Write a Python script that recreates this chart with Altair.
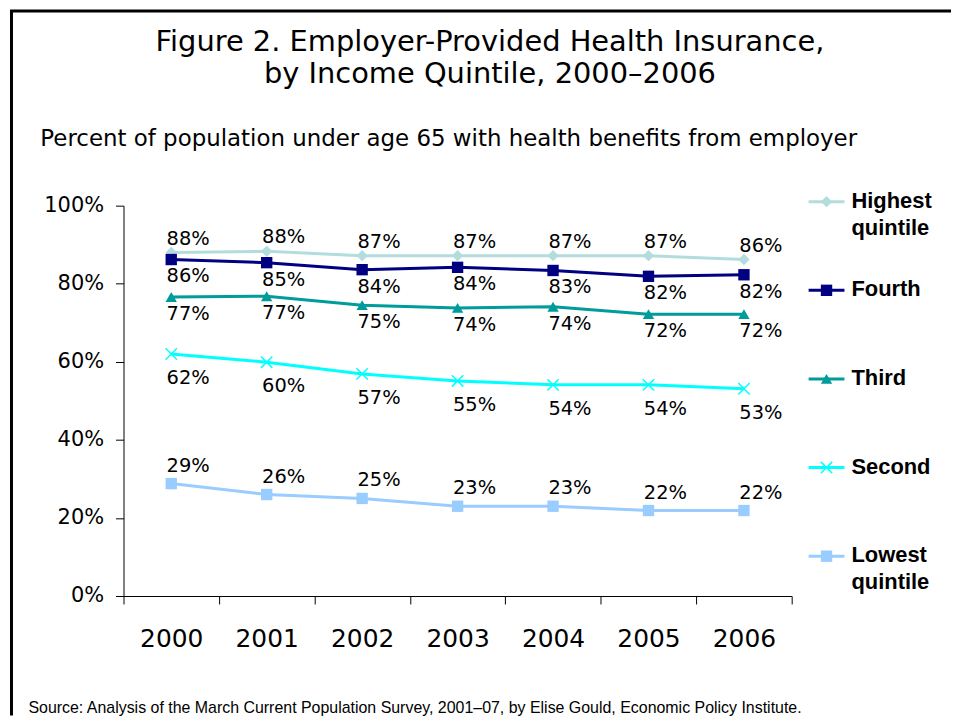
import altair as alt
import pandas as pd

years = [2000, 2001, 2002, 2003, 2004, 2005, 2006]
series = ["Highest quintile", "Fourth", "Third", "Second", "Lowest quintile"]
highest = [88.0, 88.3, 87.2, 87.2, 87.2, 87.2, 86.2]
fourth = [86.2, 85.4, 83.6, 84.2, 83.4, 81.9, 82.3]
third = [76.6, 76.8, 74.5, 73.8, 74.1, 72.2, 72.2]
second = [62.0, 59.9, 56.9, 55.1, 54.1, 54.1, 53.1]
lowest = [28.8, 26.0, 25.0, 23.0, 23.0, 21.9, 21.9]
y_ticks = [0, 20, 40, 60, 80, 100]
legend_line1 = ["Highest", "Fourth", "Third", "Second", "Lowest"]
legend_line2 = ["quintile", "", "", "", "quintile"]

colors = ["#B3DCDD", "#000080", "#009B9B", "#00FFFF", "#99CCFF"]
shapes = ["diamond", "square", "triangle-up", "cross", "square"]
X_PATH = "M-1,-1L1,1M-1,1L1,-1"

rows = []
for name, vals in zip(series, [highest, fourth, third, second, lowest]):
    for yr, v in zip(years, vals):
        rows.append({"year": yr, "series": name, "value": v})
df = pd.DataFrame(rows)

color_enc = alt.Color("series:N", scale=alt.Scale(domain=series, range=colors), legend=None)

x_vals = []
for yr in years:
    x_vals += [yr - 0.5, yr]
x_vals.append(years[-1] + 0.5)

x_enc = alt.X(
    "year:Q",
    scale=alt.Scale(domain=[years[0] - 0.5, years[-1] + 0.5], nice=False, zero=False),
    axis=alt.Axis(
        values=x_vals,
        labelExpr="datum.value % 1 == 0 ? toString(datum.value) : ''",
        tickOpacity={"condition": {"test": "datum.value % 1 == 0", "value": 0}, "value": 1},
        grid=False, domainColor="black", tickColor="black", tickSize=8,
        labelFont="DejaVu Sans", labelFontSize=25, labelColor="black", labelPadding=23,
        labelFlush=False, labelOverlap=False,
        title="Source: Analysis of the March Current Population Survey, 2001\u201307, by Elise Gould, Economic Policy Institute.",
        titleX=-96, titleY=112, titleAlign="left", titleBaseline="middle", titleAnchor="start",
        titleFont="Liberation Sans", titleFontSize=16, titleFontWeight="normal", titleColor="black",
    ),
)
y_enc = alt.Y(
    "value:Q",
    scale=alt.Scale(domain=[0, 100], nice=False),
    axis=alt.Axis(
        values=y_ticks, labelExpr="datum.value + '%'",
        grid=False, domainColor="black", tickColor="black", tickSize=8,
        labelFont="DejaVu Sans", labelFontSize=21, labelColor="black", labelPadding=12,
        labelFlush=False,
        title="Percent of population under age 65 with health benefits from employer",
        titleAngle=0, titleX=-84, titleY=-67, titleAlign="left", titleBaseline="middle",
        titleFont="DejaVu Sans", titleFontSize=23, titleFontWeight="normal", titleColor="black",
    ),
)

base = alt.Chart(df).encode(x=x_enc, y=y_enc, color=color_enc)

lines = base.mark_line(strokeWidth=3)
pts = base.transform_filter("datum.series != 'Second'").mark_point(filled=True, size=130, opacity=1).encode(
    shape=alt.Shape("series:N", scale=alt.Scale(domain=series, range=shapes), legend=None)
)
pts_x = base.transform_filter("datum.series == 'Second'").mark_point(
    shape=X_PATH, filled=False, size=130, strokeWidth=1.5, opacity=1
)

label_dy = {"Highest quintile": -14, "Fourth": 17, "Third": 17, "Second": 24, "Lowest quintile": -18}
label_layers = []
for s in series:
    label_layers.append(
        base.transform_filter(alt.datum.series == s)
        .transform_calculate(label="format(datum.value, '.0f') + '%'")
        .mark_text(font="DejaVu Sans", fontSize=19.5, color="black", dx=17, dy=label_dy[s], baseline="middle")
        .encode(text="label:N", color=alt.value("black"))
    )

one = pd.DataFrame({"k": [0]})
border_left = alt.Chart(one).mark_rule(color="black", strokeWidth=3).encode(
    x=alt.value(-112.5), y=alt.value(-195.5), y2=alt.value(512)
)
border_top = alt.Chart(one).mark_rule(color="black", strokeWidth=3).encode(
    x=alt.value(-114), x2=alt.value(831), y=alt.value(-195.5)
)

main = alt.layer(border_left, border_top, lines, pts, pts_x, *label_layers).properties(width=671, height=392)

leg_df = pd.DataFrame({
    "series": series,
    "rank": list(range(len(series))),
    "l1": legend_line1,
    "l2": legend_line2,
})
leg_y = alt.Y("rank:Q", scale=alt.Scale(domain=[4 / 89, 4 / 89 + 392 / 89], reverse=True, nice=False, zero=False), axis=None)
leg_color = alt.Color("series:N", scale=alt.Scale(domain=series, range=colors), legend=None)
leg_base = alt.Chart(leg_df).encode(y=leg_y, color=leg_color)
leg_rule = leg_base.mark_rule(strokeWidth=3).encode(x=alt.value(-2), x2=alt.value(34))
leg_pts = leg_base.transform_filter("datum.series != 'Second'").mark_point(filled=True, size=130, opacity=1).encode(
    x=alt.value(16),
    shape=alt.Shape("series:N", scale=alt.Scale(domain=series, range=shapes), legend=None),
)
leg_x = leg_base.transform_filter("datum.series == 'Second'").mark_point(
    shape=X_PATH, filled=False, size=130, strokeWidth=1.5, opacity=1
).encode(x=alt.value(16))
leg_t1 = leg_base.mark_text(font="Liberation Sans", fontSize=22, fontWeight="bold", align="left", baseline="middle", dy=-1).encode(
    x=alt.value(41), text="l1:N", color=alt.value("black")
)
leg_t2 = leg_base.mark_text(font="Liberation Sans", fontSize=22, fontWeight="bold", align="left", baseline="middle", dy=26).encode(
    x=alt.value(41), text="l2:N", color=alt.value("black")
)
legend = alt.layer(leg_rule, leg_pts, leg_x, leg_t1, leg_t2).properties(width=46, height=392)

chart = alt.hconcat(main, legend, spacing=19, bounds="flush").properties(
    title=alt.TitleParams(
        text=["Figure 2. Employer-Provided Health Insurance,", "by Income Quintile, 2000\u20132006"],
        anchor="middle", frame="bounds", dx=9.5, font="DejaVu Sans", fontSize=29, fontWeight="normal",
        color="black", lineHeight=32, baseline="top", offset=-80,
    ),
    padding=0,
    background="white",
).configure_view(strokeWidth=0)

chart.save("out.html", embed_options={"renderer": "svg", "actions": False})
